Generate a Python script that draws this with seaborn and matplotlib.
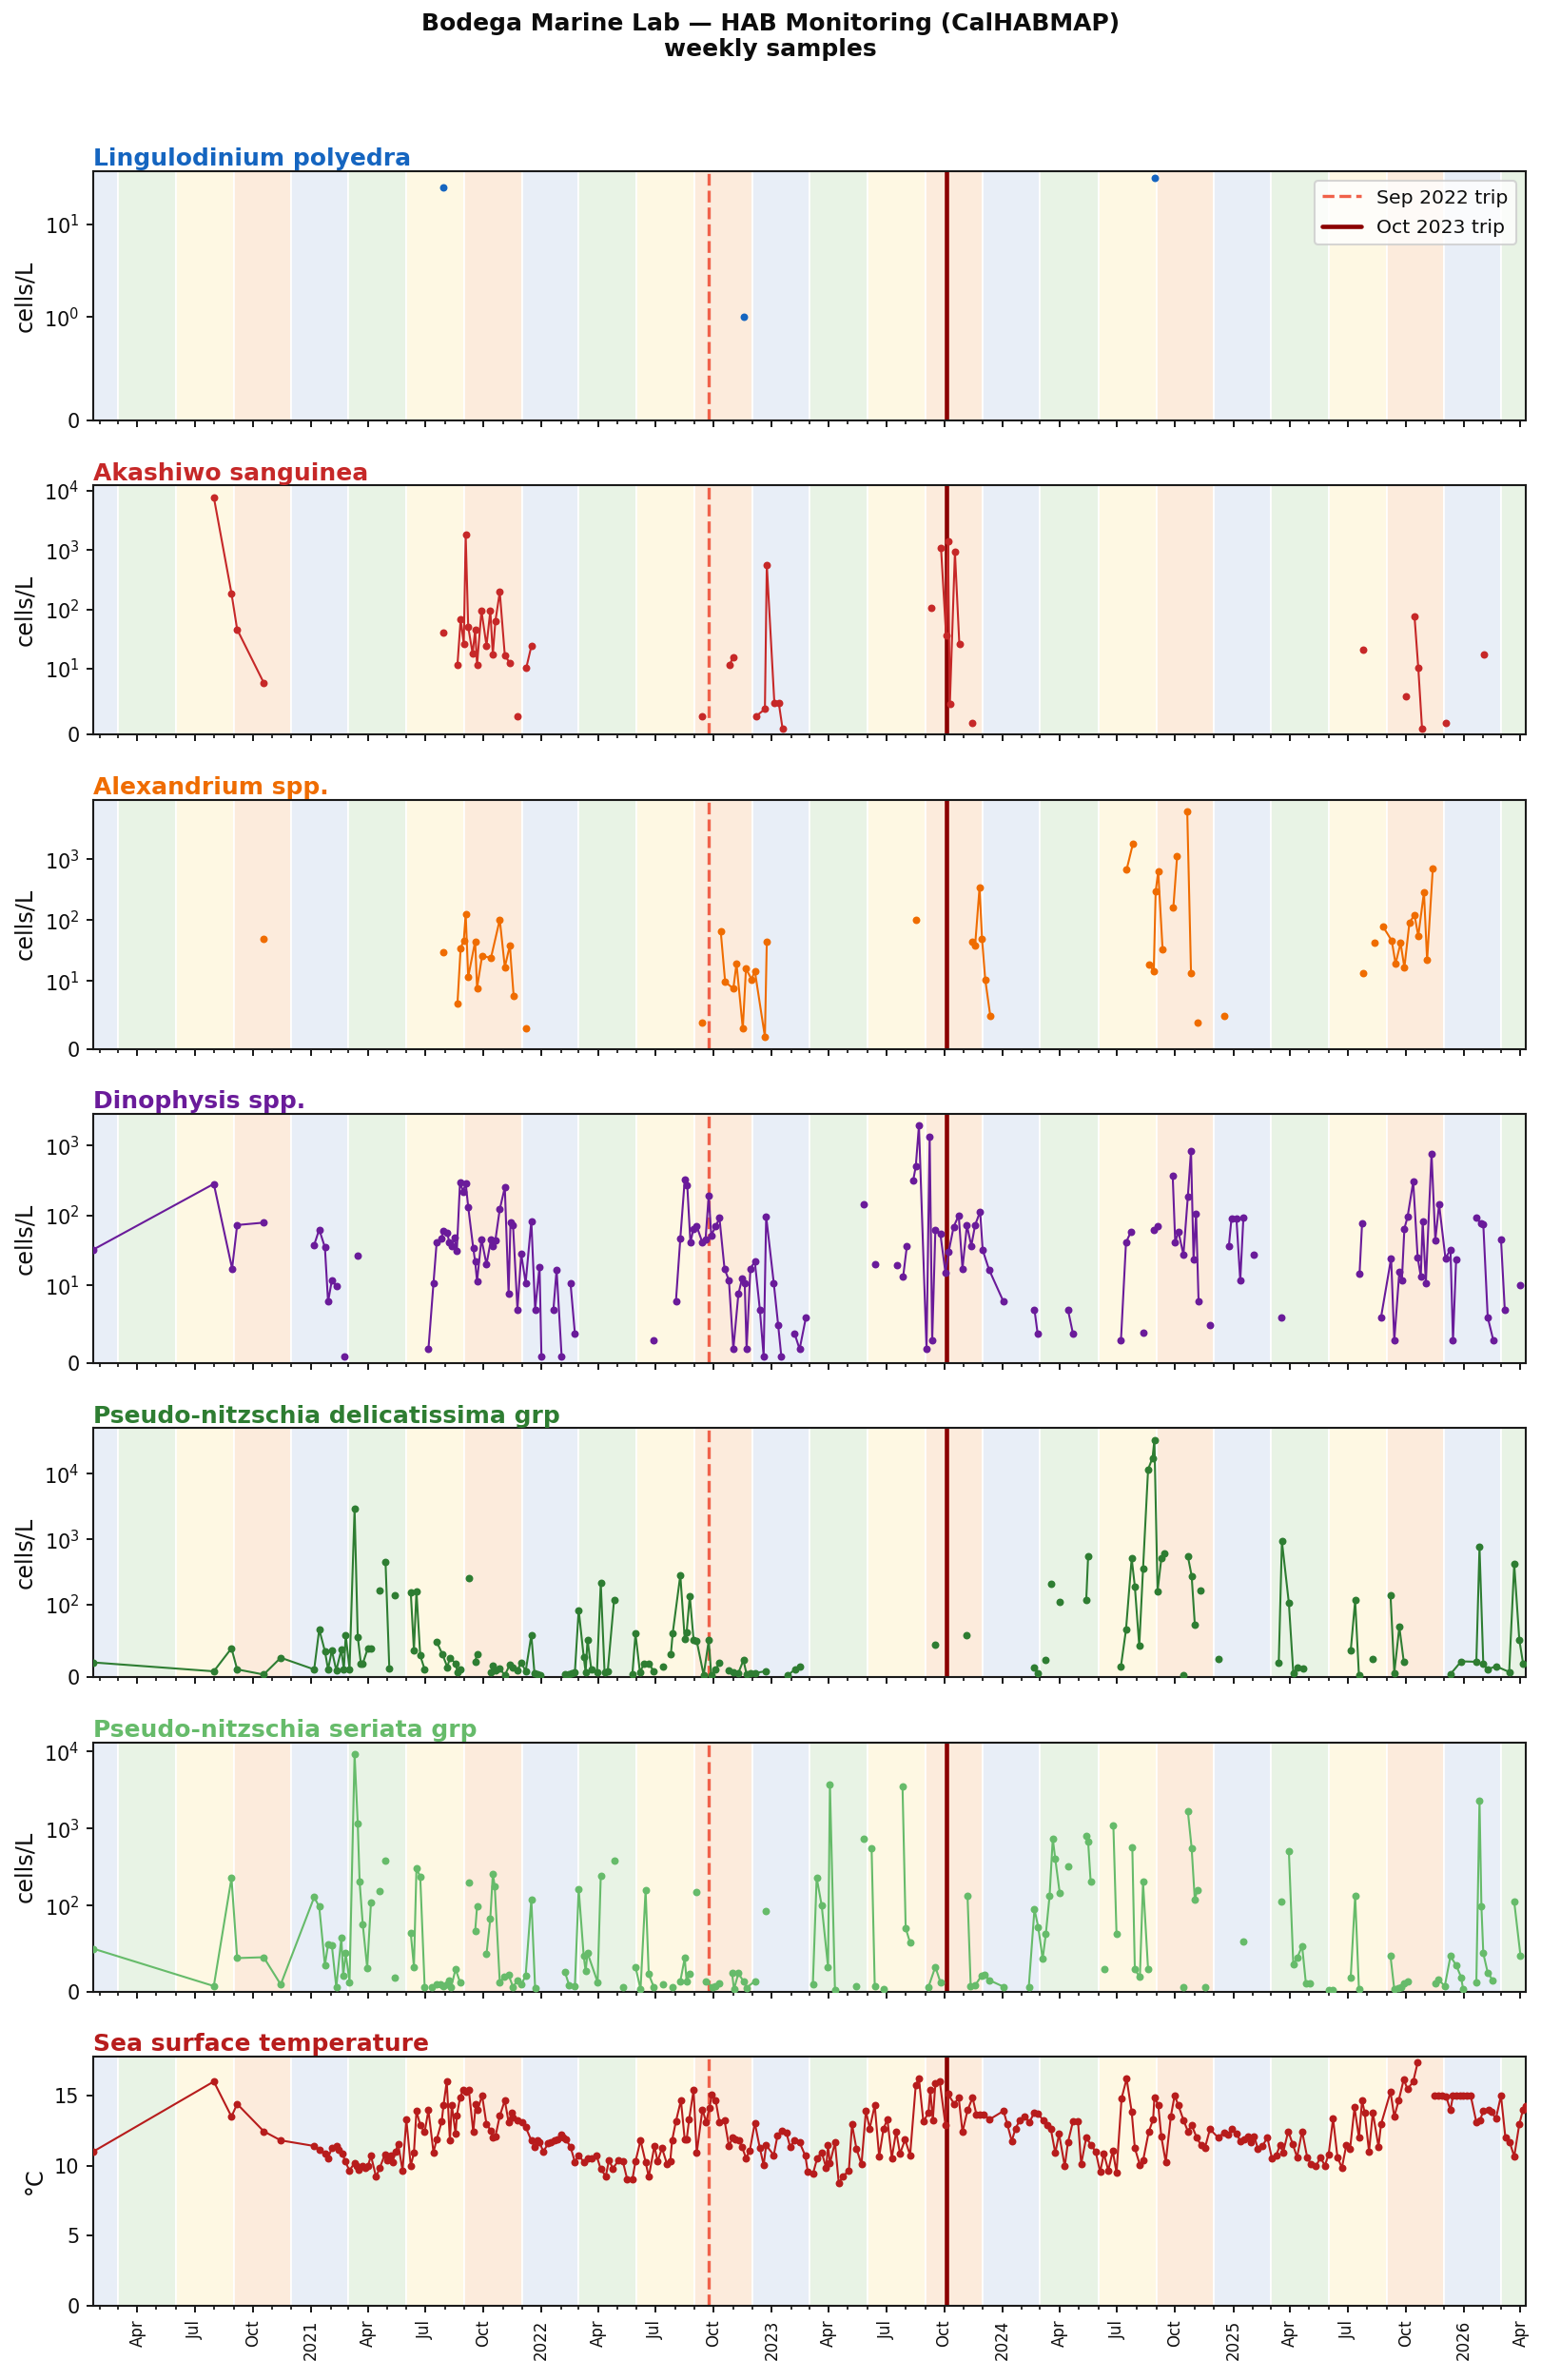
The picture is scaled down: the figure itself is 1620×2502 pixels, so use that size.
import numpy as np
import pandas as pd
import matplotlib
matplotlib.use("Agg")
import matplotlib.pyplot as plt
import matplotlib.dates as mdates
from matplotlib.ticker import FuncFormatter, NullLocator
from matplotlib.lines import Line2D
import seaborn as sns

# Sample days are counted from this date; each inner list is one connected run of samples
DAY0 = pd.Timestamp("2021-01-01")

ling_day = [[210], [686], [1336]]
ling_val = [[25], [1], [31]]

aka_day = [[-154, -126, -117, -75], [210],
           [232, 237, 242, 245, 249, 256, 260, 263, 270, 278, 284, 288, 292, 299, 307, 315],
           [327], [341, 349], [620], [663, 669], [705, 719, 722, 734, 741, 747], [982],
           [998, 1006, 1009, 1012, 1020, 1027], [1048], [1667], [1734], [1748, 1754, 1760], [1798], [1858]]
aka_val = [[7800, 187, 46, 7.9], [41],
           [11.7, 68, 26, 1806, 51, 18, 45, 11.7, 95, 24.5, 95, 17.6, 63, 197, 16.8, 12.5],
           [2.8], [10.4, 24], [2.8], [11.7, 15.8], [2.8, 3.9, 568, 4.8, 4.8, 0.9], [108],
           [1076, 37, 1394, 4.7, 929, 26], [1.8], [21], [5.8], [77, 10.4, 0.9], [1.8], [17.6]]

alex_day = [[-75], [210], [232, 237, 242, 245, 249, 260, 263, 271, 285, 299, 307, 315, 321], [340], [620],
            [649, 656, 669, 674, 684, 689, 698, 703, 719, 722], [959], [1048, 1052, 1059, 1063, 1068, 1076],
            [1292, 1302], [1328, 1335, 1338, 1342, 1349], [1366, 1372], [1388, 1394], [1405], [1447],
            [1667], [1684], [1698, 1712, 1718, 1726, 1732, 1740, 1748, 1754, 1763, 1768, 1777]]
alex_val = [[49], [30], [6.7, 35, 46, 127, 11.7, 45, 9.0, 26, 24, 102, 17, 38.5, 7.8], [3.0], [3.9],
            [66, 9.9, 8.9, 19.5, 3.0, 16, 10.7, 14.8, 1.8, 45], [100], [45, 38.5, 342, 49, 10.7, 4.9],
            [675, 1795], [18.8, 14.5, 292, 635, 33], [161, 1115], [6140, 13.6], [3.9], [4.9],
            [13.6], [43], [79, 46, 19.3, 42, 16.7, 91, 122, 55, 286, 22, 700]]

dino_day = [[-345, -154, -125, -117, -75], [5, 13, 22, 27, 33, 40], [53], [74],
            [186, 194, 199, 206, 210, 216, 219, 223, 227, 231, 236, 241, 245, 249, 257, 260, 263, 270, 278, 285,
             288, 292, 299, 307, 313, 316, 320, 327, 333, 340, 349, 355, 362, 365],
            [384, 389, 397], [411, 418], [543],
            [578, 585, 592, 596, 601, 606, 611, 620, 625, 630, 634, 641, 647, 655, 662, 669, 677, 683, 687, 690,
             696, 703, 711, 717, 721, 733, 740, 745],
            [766, 774, 784], [875], [893], [928], [938, 944],
            [954, 958, 963, 975, 980, 984, 989, 997, 1005, 1010, 1018, 1026, 1032, 1039, 1046, 1052, 1060, 1064,
             1074, 1097],
            [1146, 1151], [1199, 1207], [1283, 1291, 1299], [1318], [1335, 1341],
            [1365, 1369, 1374, 1382, 1389, 1394, 1398, 1402, 1406], [1424], [1454, 1458, 1466, 1472, 1477],
            [1493], [1537], [1661, 1665],
            [1695, 1711, 1716, 1724, 1728, 1732, 1737, 1746, 1753, 1758, 1761, 1766, 1775, 1781, 1787, 1797, 1805,
             1809, 1814],
            [1846, 1853, 1857, 1864, 1873], [1885, 1891], [1916]]
dino_val = [[32.5, 283, 17.4, 73, 79], [38, 63, 35, 7.9, 11.8, 9.9], [0.86], [27],
            [1.8, 10.8, 41, 47, 61, 56, 41, 37, 48, 31, 300, 220, 290, 133, 34, 22, 11.5, 46, 20, 45,
             37, 44, 123, 252, 8.9, 79, 73, 6.9, 28, 10.9, 83, 6.9, 18.5, 0.86],
            [6.9, 16.9, 0.86], [10.9, 3.8], [2.9],
            [7.9, 47, 324, 268, 41, 65, 70, 41, 46, 194, 52, 70, 92, 17.4, 11.8, 1.8, 8.9, 12.7, 10.9, 1.8,
             17.4, 22, 6.9, 0.86, 97, 10.9, 4.9, 0.86],
            [3.8, 1.8, 5.9], [145], [20.3], [19.7], [13.4, 37],
            [321, 502, 1932, 1.8, 1324, 2.9, 62, 54, 15.2, 30, 69, 100, 17.4, 72, 37, 73, 114, 32, 16.9, 7.9],
            [6.9, 3.8], [6.9, 3.8], [2.9, 41, 59], [3.9], [63, 70],
            [367, 41, 59, 27.5, 188, 845, 23.8, 107, 7.9], [4.9], [37, 89, 89, 11.7, 94],
            [27.8], [5.9], [14.9, 78],
            [5.9, 24.5, 2.9, 15.7, 11.7, 65, 95, 304, 25.3, 13.4, 82, 10.9, 771, 44.5, 145, 24.5, 32.5,
             2.9, 23.8],
            [92, 77, 75, 5.9, 2.9], [46, 6.9], [10]]

pnd_day = [[-345, -154, -126, -117, -75, -48, 5, 13, 22, 27, 33, 40, 48, 52, 55, 61, 69, 74, 79, 82, 90, 95],
           [109], [118, 124], [133], [158, 163, 167, 173, 180], [199, 208, 216, 220, 229, 232, 236], [250],
           [260, 263], [285, 288, 292, 299, 307, 315, 320, 327, 333, 340, 349, 354, 358, 363],
           [402, 408, 413, 418, 424, 432, 435, 438, 444, 453, 459, 465, 470, 480],
           [509, 514, 521, 528, 535, 543], [557],
           [570, 573, 585, 592, 595, 600, 606, 611, 622, 630, 634, 641, 647],
           [662, 669, 677, 685, 690, 696, 703, 720], [755, 767, 774],
           [989], [1039], [1146, 1151], [1164], [1172], [1186], [1228, 1231],
           [1283, 1291, 1300, 1305, 1312, 1318, 1326, 1333, 1336, 1341, 1347, 1352],
           [1382], [1389, 1395, 1400], [1409], [1437], [1533, 1538, 1549, 1556, 1563, 1571],
           [1647, 1654, 1660], [1682], [1710, 1716, 1724, 1731],
           [1805, 1822, 1846, 1851, 1857, 1864, 1877, 1898, 1906, 1914, 1920]]
pnd_val = [[20.5, 8.3, 40, 10.9, 3.9, 27, 10.9, 66, 36, 10.9, 37, 9.6, 38, 10.9, 58, 10.9, 2931, 56, 19, 19, 40, 40],
           [167], [456, 12.7], [141], [156, 37, 161, 30, 10.9], [49, 32, 14, 27, 19, 7.4, 10.9], [258],
           [21.4, 32], [7.4, 16, 9.6, 11.8, 3, 17.5, 14, 9.6, 20.5, 8.3, 58, 5.2, 4.4, 3],
           [3.9, 4.4, 5.2, 7.4, 92.6, 28, 7.4, 52, 10.9, 7.4, 213, 7.4, 8, 116],
           [3.9, 60, 7.4, 19, 19, 8.3], [15.3],
           [31.4, 61, 282, 53, 62, 137, 52, 50, 3, 51, 3, 10.9, 19.7],
           [9.6, 7.4, 6.1, 23.6, 4.4, 5.2, 6, 8.3], [3, 10.9, 15.3],
           [44.5], [58], [14, 6.1], [23.6], [207], [109], [116, 545],
           [15.3, 65.5, 509, 191, 43, 353, 11700, 17460, 32960, 161, 509, 602],
           [3], [550, 276, 73], [167], [25.8], [20.5, 930, 106, 6.1, 14, 12.7],
           [36.7, 116, 3], [24.9], [141, 6.1, 69.4, 21.8],
           [4.4, 22, 21.4, 761, 18.3, 10.9, 15.3, 7.4, 417, 52, 19.2]]

pns_day = [[-345, -154, -126, -117, -75, -48, 5, 13, 22, 27, 33, 40, 48, 51, 55, 61, 69, 74, 77, 82, 89, 95],
           [109], [118], [133], [158, 163, 167, 173, 180], [192, 199, 205, 210, 215, 219, 222, 229, 236],
           [250], [260, 263], [278, 284, 288, 291, 299, 306, 313, 320, 327, 333, 340, 349, 355],
           [402, 409, 418, 424, 432, 435, 438, 454, 459], [480], [494], [514, 522, 530, 535, 543],
           [557], [572], [585, 592, 595, 600], [611], [626, 636, 641, 647], [667, 670, 677, 685, 690, 703],
           [721], [795, 801, 809, 819, 822, 830], [864], [875], [888, 893], [907], [937, 942, 949],
           [978, 989, 997], [1040, 1045, 1052, 1062, 1067, 1075, 1097],
           [1137, 1146, 1152, 1159, 1164, 1170, 1175, 1179, 1186], [1199], [1228, 1231, 1235], [1257],
           [1271, 1276], [1301, 1305, 1313, 1318, 1326], [1382], [1389, 1395, 1400, 1404], [1416], [1477],
           [1537], [1549, 1556, 1562, 1570, 1576, 1582], [1612, 1619], [1647, 1654, 1660],
           [1710, 1716, 1722, 1727, 1731, 1737], [1781, 1786, 1796, 1805, 1814, 1822, 1825],
           [1846, 1851, 1854, 1857, 1864, 1872], [1906, 1916]]
pns_val = [[50, 6.4, 228, 39, 40, 8.2, 129, 98.9, 30.7, 54.7, 54, 5.2, 62.5, 18.7, 44.6, 10.9, 9190, 1170, 203,
            78, 27.7, 111],
           [156], [387], [15.7], [68, 28.8, 302, 239, 5.2], [5.2, 8.2, 8.2, 6.4, 8.2, 12.7, 5.2, 26.2, 10.9],
           [201], [70.4, 98.9], [43.4, 85, 260, 180, 10.9, 17.6, 19.5, 5.2, 13.1, 8.2, 18.4, 121, 3.7],
           [23.2, 7.1, 6.4, 165, 41.2, 24, 45, 10.9, 245], [387], [5.2], [28.8, 2.6, 160, 20.2, 5.2],
           [8.2], [5.2], [12, 39, 12, 21], [152], [12, 5.2, 6.4, 9.4], [21.3, 2.6, 21.3, 12, 4.5, 12],
           [94], [9, 232, 100, 28.8, 3740, 1.5], [6.4], [743], [559, 6.4], [2.6], [3470, 73.8, 57],
           [5.2, 28.8, 10.9], [133, 6.4, 7.1, 18.4, 19.5, 13.1, 5.6],
           [5.2, 96, 75, 38, 67, 135, 743, 402, 147], [326], [801, 680, 207], [25.8],
           [1084, 67], [575, 25.8, 16.9, 203, 25.8], [5.2], [1676, 559, 120, 160], [5.2], [58],
           [112], [513, 31.8, 39, 53, 9.4, 9.4], [1.5, 1.5], [16.5, 135, 2.6],
           [41.2, 2.6, 3.7, 5.2, 9.4, 12], [9.4, 13.9, 6.4, 41.2, 30.7, 16.5, 2.6],
           [10.9, 2310, 99.6, 44.6, 22, 13.1], [112, 41.2]]

sst_day = [[-345, -154, -126, -117, -75, -48, 5, 13, 22, 27,
            33, 40, 44, 50, 54, 61, 69, 73, 76, 81,
            86, 90, 95, 103, 109, 117, 121, 126, 129, 134,
            138, 145, 151, 158, 163, 167, 173, 180, 186, 194,
            199, 207, 210, 215, 220, 223, 229, 231, 236, 241,
            245, 250, 257, 261, 264, 271, 278, 285, 288, 292,
            299, 307, 313, 318, 320, 327, 334, 340, 349, 354,
            358, 362, 368, 376, 380, 386, 390, 397, 400, 404,
            411, 418, 424, 432, 438, 444, 452, 459, 467, 472,
            478, 487, 494, 501, 509, 514, 522, 530, 535, 544,
            549, 556, 564, 569, 572, 578, 586, 592, 595, 599,
            606, 611, 620, 626, 631, 635, 641, 647, 655, 662,
            668, 672, 678, 683, 689, 695, 703, 711, 717, 721,
            733, 739, 746, 753, 759, 766, 774, 783, 787, 795,
            802, 809, 816, 819, 822, 830, 836, 843, 852, 857,
            864, 872, 879, 885, 893, 900, 907, 913, 920, 927,
            933, 941, 949, 958, 963, 970, 978, 981, 985, 989,
            996, 1005, 1009, 1019, 1026, 1032, 1040, 1048, 1054, 1060,
            1066, 1075, 1097, 1103, 1110, 1116, 1123, 1130, 1138, 1146,
            1151, 1160, 1166, 1172, 1179, 1185, 1194, 1199, 1207, 1215,
            1220, 1228, 1236, 1243, 1250, 1256, 1263, 1270, 1276, 1284,
            1292, 1300, 1305, 1313, 1318, 1327, 1334, 1336, 1342, 1347,
            1354, 1362, 1368, 1374, 1382, 1389, 1395, 1403, 1410, 1416,
            1424, 1437, 1446, 1453, 1459, 1466, 1472, 1478, 1484, 1489,
            1494, 1500, 1507, 1515, 1522, 1529, 1535, 1540, 1548, 1555,
            1562, 1570, 1578, 1584, 1592, 1599, 1606, 1612, 1619, 1626,
            1633, 1640, 1646, 1653, 1660, 1665, 1669, 1676, 1682, 1691,
            1695, 1710, 1716, 1723, 1731, 1737, 1746, 1753],
           [1779, 1786, 1791, 1798, 1805, 1809, 1815, 1820, 1825, 1831,
            1837, 1846, 1852, 1857, 1865, 1870, 1877, 1885, 1892, 1899,
            1906, 1914, 1920, 1924]]
sst_val = [[11.0, 16.0, 13.5, 14.4, 12.45, 11.8, 11.4, 11.1, 10.85, 10.55,
            11.25, 11.4, 11.1, 10.85, 10.3, 9.65, 10.2, 9.95, 9.7, 9.95,
            9.85, 9.95, 10.7, 9.2, 9.85, 10.8, 10.4, 10.7, 10.25, 11.0,
            11.55, 9.65, 13.3, 10.0, 10.9, 13.9, 12.9, 12.4, 13.95, 10.95,
            11.85, 13.15, 14.35, 16.0, 11.8, 14.35, 12.25, 13.55, 14.85, 15.4,
            15.3, 15.4, 12.4, 14.4, 14.0, 15.0, 12.95, 12.5, 12.0, 12.05,
            13.55, 14.65, 13.1, 13.8, 13.45, 13.2, 13.1, 12.75, 11.8, 11.35,
            11.8, 11.65, 11.0, 11.6, 11.7, 11.8, 11.85, 12.2, 12.0, 11.85,
            11.35, 10.25, 10.75, 10.25, 10.5, 10.55, 10.75, 9.75, 9.25, 10.4,
            9.8, 10.35, 10.3, 9.0, 9.0, 10.3, 11.8, 10.25, 9.2, 11.4,
            10.3, 11.25, 10.1, 10.3, 11.8, 13.15, 14.65, 11.85, 11.85, 13.3,
            15.4, 10.9, 14.0, 13.1, 14.1, 15.05, 14.65, 13.1, 13.25, 11.4,
            12.0, 11.85, 11.8, 11.3, 10.55, 11.05, 13.05, 11.25, 10.05, 11.45,
            10.75, 12.15, 12.5, 12.35, 11.35, 11.8, 11.65, 10.7, 9.55, 9.4,
            10.55, 10.95, 9.85, 11.45, 10.15, 11.65, 8.75, 9.25, 9.65, 12.95,
            11.2, 10.1, 13.9, 12.65, 14.3, 10.65, 12.65, 13.3, 10.55, 12.45,
            10.85, 11.85, 10.75, 15.75, 16.2, 13.15, 13.75, 15.4, 13.25, 15.85,
            16.0, 12.9, 15.1, 14.4, 14.85, 12.4, 13.95, 14.85, 13.65, 13.65,
            13.65, 13.3, 13.9, 12.95, 11.75, 12.65, 13.25, 13.5, 13.1, 13.8,
            13.7, 13.25, 12.9, 12.6, 10.9, 12.25, 9.95, 11.65, 13.15, 13.15,
            10.1, 12.0, 11.45, 11.0, 9.55, 10.85, 9.65, 11.05, 9.5, 14.8,
            16.2, 13.85, 11.25, 10.05, 10.35, 12.4, 13.3, 14.85, 14.35, 12.05,
            10.25, 13.5, 15.0, 14.3, 13.25, 12.45, 12.9, 12.0, 11.45, 11.25,
            12.6, 12.0, 12.35, 12.2, 12.6, 12.3, 11.75, 11.9, 12.05, 11.65,
            12.1, 11.2, 11.4, 12.0, 10.55, 10.75, 11.45, 10.95, 12.45, 11.55,
            10.6, 12.45, 10.6, 10.1, 9.95, 10.6, 10.0, 10.8, 13.35, 10.6,
            9.85, 11.45, 11.2, 14.15, 12.0, 14.65, 13.8, 11.0, 13.8, 11.35,
            12.95, 15.25, 13.5, 14.65, 16.15, 15.45, 16.0, 17.35],
           [15.0, 15.0, 15.0, 14.95, 13.95, 15.0, 15.0, 15.0, 15.0, 15.0,
            15.0, 13.1, 13.25, 13.9, 14.0, 13.85, 13.35, 15.0, 12.0, 11.65,
            10.65, 12.95, 14.0, 14.25]]

trip_dates = ["2022-09-23", "2023-10-05"]
trip_labels = ["Sep 2022 trip", "Oct 2023 trip"]

titles = ["Lingulodinium polyedra", "Akashiwo sanguinea", "Alexandrium spp.", "Dinophysis spp.",
          "Pseudo-nitzschia delicatissima grp", "Pseudo-nitzschia seriata grp", "Sea surface temperature"]
colors = ["#1565c0", "#c62828", "#ef6c00", "#6a1b9a", "#2e7d32", "#66bb6a", "#b71c1c"]
linthresh = [1, 10, 10, 10, 100, 100, None]
series = [(ling_day, ling_val), (aka_day, aka_val), (alex_day, alex_val), (dino_day, dino_val),
          (pnd_day, pnd_val), (pns_day, pns_val), (sst_day, sst_val)]

sns.set_theme(style="ticks", rc={
    "axes.edgecolor": "0.1", "axes.linewidth": 1.0,
    "xtick.major.size": 3.5, "ytick.major.size": 3.5, "xtick.minor.size": 2.0,
    "xtick.major.width": 0.9, "ytick.major.width": 0.9, "xtick.minor.width": 0.8,
    "xtick.labelsize": 8, "ytick.labelsize": 10, "axes.labelsize": 11.5,
    "xtick.color": "0.05", "ytick.color": "0.05", "text.color": "0.05", "axes.labelcolor": "0.05",
})
plt.rcParams["font.family"] = ["DejaVu Sans"]

fig, axes = plt.subplots(7, 1, figsize=(10.8, 16.68), dpi=150, sharex=True)
fig.subplots_adjust(left=0.0605, right=0.990, top=0.928, bottom=0.0312, hspace=0.261)

all_days = [d for days, _ in series for seg in days for d in seg]
x0 = DAY0 + pd.Timedelta(days=min(all_days))
x1 = DAY0 + pd.Timedelta(days=max(all_days))

season_starts = pd.date_range("2019-12-01", "2026-06-01", freq="3MS")
season_col = {12: "#e8eef7", 3: "#e8f3e5", 6: "#fef8e3", 9: "#fcebdc"}

for ax, title, color, lt, (days, vals) in zip(axes, titles, colors, linthresh, series):
    for s in season_starts:
        ax.axvspan(s, s + pd.DateOffset(months=3), facecolor=season_col[s.month],
                   edgecolor="white", linewidth=0.8, zorder=0)
    for dseg, vseg in zip(days, vals):
        if len(dseg) != len(vseg):
            raise ValueError(f"{title}: {dseg} vs {vseg}")
        df = pd.DataFrame({"date": DAY0 + pd.to_timedelta(dseg, unit="D"), "value": vseg})
        sns.lineplot(data=df, x="date", y="value", ax=ax, color=color, marker="o",
                     markersize=3.8, markeredgewidth=0, linewidth=1.0,
                     estimator=None, sort=False, legend=False, zorder=3)
    ax.axvline(pd.Timestamp(trip_dates[0]), color="#f0614a", ls="--", lw=1.6, zorder=2)
    ax.axvline(pd.Timestamp(trip_dates[1]), color="#8b0000", ls="-", lw=2.2, zorder=2)
    if lt is not None:
        ax.set_yscale("symlog", linthresh=lt)
        ax.yaxis.set_minor_locator(NullLocator())
        ax.set_ylabel("cells/L")
    else:
        ax.set_ylabel("°C")
    # top limit: 5% headroom in the scale's own (transformed) space, bottom fixed at 0
    yv = np.array([v for seg in vals for v in seg], dtype=float).reshape(-1, 1)
    tr = ax.yaxis.get_transform()
    tlo, thi = tr.transform(yv).min(), tr.transform(yv).max()
    top = tr.inverted().transform(np.array([[thi + 0.05 * (thi - tlo)]]))[0, 0]
    ax.set_ylim(0, top)
    ax.set_xlabel("")
    ax.set_title(title, loc="left", fontsize=12, fontweight="bold", color=color, pad=2.8)

handles = [Line2D([], [], color="#f0614a", ls="--", lw=1.6),
           Line2D([], [], color="#8b0000", ls="-", lw=2.2)]
axes[0].legend(handles, trip_labels, loc="upper right", fontsize=9.8, frameon=True,
               labelspacing=0.6, handlelength=2.0)


def month_label(x, pos):
    d = mdates.num2date(x)
    return d.strftime("%Y") if d.month == 1 else d.strftime("%b")


bx = axes[-1]
bx.xaxis.set_major_locator(mdates.MonthLocator(bymonth=[1, 4, 7, 10]))
bx.xaxis.set_minor_locator(mdates.MonthLocator())
bx.xaxis.set_major_formatter(FuncFormatter(month_label))
bx.set_xlim(x0, x1)
bx.tick_params(axis="x", labelrotation=90, labelsize=8)

fig.suptitle("Bodega Marine Lab — HAB Monitoring (CalHABMAP)\nweekly samples",
             fontsize=12, fontweight="bold", y=0.995, va="top")

fig.savefig("out.png", dpi=150)
